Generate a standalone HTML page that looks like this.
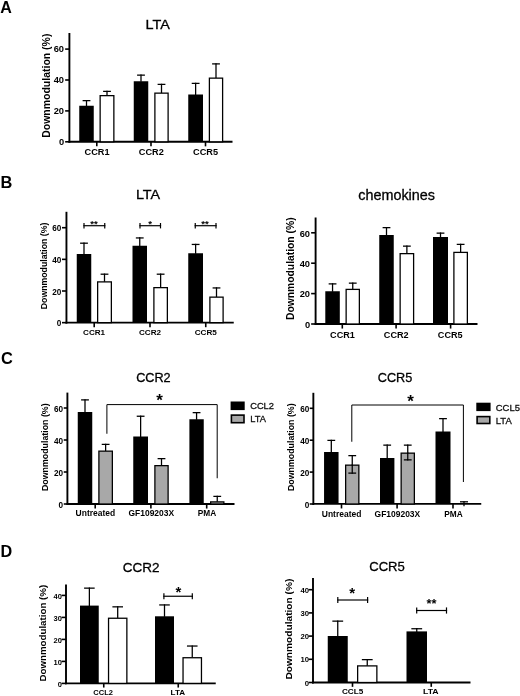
<!DOCTYPE html>
<html><head><meta charset="utf-8"><title>Figure</title>
<style>
html,body{margin:0;padding:0;background:#fff;}
body{width:520px;height:696px;overflow:hidden;font-family:"Liberation Sans",sans-serif;}
svg{display:block;font-family:"Liberation Sans",sans-serif;}
</style></head><body>
<svg width="520" height="696" viewBox="0 0 520 696">
<defs><filter id="soft" x="0" y="0" width="520" height="696" filterUnits="userSpaceOnUse"><feGaussianBlur stdDeviation="0.42"/></filter></defs>
<g filter="url(#soft)">
<rect x="-5" y="-5" width="530" height="706" fill="#fff"/>
<text x="0.2" y="12.6" font-size="16" font-weight="bold" text-anchor="start" fill="#000">A</text>
<text x="0.5" y="187.6" font-size="16.4" font-weight="bold" text-anchor="start" fill="#000">B</text>
<text x="0.9" y="363.8" font-size="16.4" font-weight="bold" text-anchor="start" fill="#000">C</text>
<text x="0.5" y="556.9" font-size="16.2" font-weight="bold" text-anchor="start" fill="#000">D</text>
<line x1="69.4" y1="33" x2="69.4" y2="142.75" stroke="#000" stroke-width="1.9" stroke-linecap="butt"/>
<line x1="68.45" y1="141.8" x2="232.5" y2="141.8" stroke="#000" stroke-width="1.9" stroke-linecap="butt"/>
<line x1="65.15" y1="141.8" x2="69.4" y2="141.8" stroke="#000" stroke-width="1.6" stroke-linecap="butt"/>
<text x="64.05" y="145.15" font-size="9.3" font-weight="bold" text-anchor="end" fill="#000">0</text>
<line x1="65.15" y1="110.9" x2="69.4" y2="110.9" stroke="#000" stroke-width="1.6" stroke-linecap="butt"/>
<text x="64.05" y="114.25" font-size="9.3" font-weight="bold" text-anchor="end" fill="#000">20</text>
<line x1="65.15" y1="80" x2="69.4" y2="80" stroke="#000" stroke-width="1.6" stroke-linecap="butt"/>
<text x="64.05" y="83.35" font-size="9.3" font-weight="bold" text-anchor="end" fill="#000">40</text>
<line x1="65.15" y1="49.1" x2="69.4" y2="49.1" stroke="#000" stroke-width="1.6" stroke-linecap="butt"/>
<text x="64.05" y="52.45" font-size="9.3" font-weight="bold" text-anchor="end" fill="#000">60</text>
<line x1="96.8" y1="141.8" x2="96.8" y2="146.35" stroke="#000" stroke-width="1.6" stroke-linecap="butt"/>
<line x1="151" y1="141.8" x2="151" y2="146.35" stroke="#000" stroke-width="1.6" stroke-linecap="butt"/>
<line x1="205.5" y1="141.8" x2="205.5" y2="146.35" stroke="#000" stroke-width="1.6" stroke-linecap="butt"/>
<rect x="79.25" y="105.75" width="14.5" height="36.05" fill="#000"/>
<line x1="86.5" y1="106.25" x2="86.5" y2="100" stroke="#000" stroke-width="1.28" stroke-linecap="butt"/>
<line x1="82.6" y1="100.64" x2="90.4" y2="100.64" stroke="#000" stroke-width="1.28" stroke-linecap="butt"/>
<rect x="100.14" y="95.64" width="13.72" height="46.16" fill="#fff" stroke="#000" stroke-width="1.28"/>
<line x1="107" y1="95.5" x2="107" y2="90.75" stroke="#000" stroke-width="1.28" stroke-linecap="butt"/>
<line x1="103.1" y1="91.39" x2="110.9" y2="91.39" stroke="#000" stroke-width="1.28" stroke-linecap="butt"/>
<rect x="133.75" y="81.25" width="14.5" height="60.55" fill="#000"/>
<line x1="141" y1="81.75" x2="141" y2="74.5" stroke="#000" stroke-width="1.28" stroke-linecap="butt"/>
<line x1="137.1" y1="75.14" x2="144.9" y2="75.14" stroke="#000" stroke-width="1.28" stroke-linecap="butt"/>
<rect x="154.89" y="93.14" width="13.22" height="48.66" fill="#fff" stroke="#000" stroke-width="1.28"/>
<line x1="161.5" y1="93" x2="161.5" y2="83.75" stroke="#000" stroke-width="1.28" stroke-linecap="butt"/>
<line x1="157.6" y1="84.39" x2="165.4" y2="84.39" stroke="#000" stroke-width="1.28" stroke-linecap="butt"/>
<rect x="188.25" y="94.5" width="14.75" height="47.3" fill="#000"/>
<line x1="195.62" y1="95" x2="195.62" y2="82.75" stroke="#000" stroke-width="1.28" stroke-linecap="butt"/>
<line x1="191.72" y1="83.39" x2="199.53" y2="83.39" stroke="#000" stroke-width="1.28" stroke-linecap="butt"/>
<rect x="209.39" y="78.14" width="13.22" height="63.66" fill="#fff" stroke="#000" stroke-width="1.28"/>
<line x1="216" y1="78" x2="216" y2="63.25" stroke="#000" stroke-width="1.28" stroke-linecap="butt"/>
<line x1="212.1" y1="63.89" x2="219.9" y2="63.89" stroke="#000" stroke-width="1.28" stroke-linecap="butt"/>
<text x="97" y="154.7" font-size="8.9" font-weight="bold" text-anchor="middle" fill="#000" textLength="25" lengthAdjust="spacingAndGlyphs">CCR1</text>
<text x="151.25" y="154.7" font-size="8.9" font-weight="bold" text-anchor="middle" fill="#000" textLength="25" lengthAdjust="spacingAndGlyphs">CCR2</text>
<text x="205.6" y="154.7" font-size="8.9" font-weight="bold" text-anchor="middle" fill="#000" textLength="25" lengthAdjust="spacingAndGlyphs">CCR5</text>
<text x="157.7" y="28.9" font-size="13.2" font-weight="normal" text-anchor="middle" fill="#000" textLength="24.3" lengthAdjust="spacingAndGlyphs" stroke="#000" stroke-width="0.3">LTA</text>
<text transform="translate(49.8,137.8) rotate(-90)" font-size="10" font-weight="bold" textLength="104.2" lengthAdjust="spacingAndGlyphs">Downmodulation (%)</text>
<line x1="66.45" y1="211.8" x2="66.45" y2="323.6" stroke="#000" stroke-width="1.9" stroke-linecap="butt"/>
<line x1="65.5" y1="322.65" x2="233.75" y2="322.65" stroke="#000" stroke-width="1.9" stroke-linecap="butt"/>
<line x1="62" y1="322.65" x2="66.45" y2="322.65" stroke="#000" stroke-width="1.6" stroke-linecap="butt"/>
<text x="61.3" y="326.3" font-size="8.2" font-weight="bold" text-anchor="end" fill="#000">0</text>
<line x1="62" y1="291" x2="66.45" y2="291" stroke="#000" stroke-width="1.6" stroke-linecap="butt"/>
<text x="61.3" y="294.65" font-size="8.2" font-weight="bold" text-anchor="end" fill="#000">20</text>
<line x1="62" y1="259.35" x2="66.45" y2="259.35" stroke="#000" stroke-width="1.6" stroke-linecap="butt"/>
<text x="61.3" y="263" font-size="8.2" font-weight="bold" text-anchor="end" fill="#000">40</text>
<line x1="62" y1="227.7" x2="66.45" y2="227.7" stroke="#000" stroke-width="1.6" stroke-linecap="butt"/>
<text x="61.3" y="231.35" font-size="8.2" font-weight="bold" text-anchor="end" fill="#000">60</text>
<line x1="94.2" y1="322.65" x2="94.2" y2="327.2" stroke="#000" stroke-width="1.6" stroke-linecap="butt"/>
<line x1="150" y1="322.65" x2="150" y2="327.2" stroke="#000" stroke-width="1.6" stroke-linecap="butt"/>
<line x1="205.75" y1="322.65" x2="205.75" y2="327.2" stroke="#000" stroke-width="1.6" stroke-linecap="butt"/>
<rect x="76.75" y="254" width="14.5" height="68.65" fill="#000"/>
<line x1="84" y1="254.5" x2="84" y2="242.55" stroke="#000" stroke-width="1.28" stroke-linecap="butt"/>
<line x1="80.1" y1="243.19" x2="87.9" y2="243.19" stroke="#000" stroke-width="1.28" stroke-linecap="butt"/>
<rect x="97.64" y="281.89" width="13.72" height="40.76" fill="#fff" stroke="#000" stroke-width="1.28"/>
<line x1="104.5" y1="281.75" x2="104.5" y2="273.55" stroke="#000" stroke-width="1.28" stroke-linecap="butt"/>
<line x1="100.6" y1="274.19" x2="108.4" y2="274.19" stroke="#000" stroke-width="1.28" stroke-linecap="butt"/>
<rect x="132.5" y="245.75" width="14.5" height="76.9" fill="#000"/>
<line x1="139.75" y1="246.25" x2="139.75" y2="237.3" stroke="#000" stroke-width="1.28" stroke-linecap="butt"/>
<line x1="135.85" y1="237.94" x2="143.65" y2="237.94" stroke="#000" stroke-width="1.28" stroke-linecap="butt"/>
<rect x="153.89" y="287.64" width="13.47" height="35.01" fill="#fff" stroke="#000" stroke-width="1.28"/>
<line x1="160.62" y1="287.5" x2="160.62" y2="273.55" stroke="#000" stroke-width="1.28" stroke-linecap="butt"/>
<line x1="156.72" y1="274.19" x2="164.53" y2="274.19" stroke="#000" stroke-width="1.28" stroke-linecap="butt"/>
<rect x="188.25" y="253.25" width="14.75" height="69.4" fill="#000"/>
<line x1="195.62" y1="253.75" x2="195.62" y2="243.8" stroke="#000" stroke-width="1.28" stroke-linecap="butt"/>
<line x1="191.72" y1="244.44" x2="199.53" y2="244.44" stroke="#000" stroke-width="1.28" stroke-linecap="butt"/>
<rect x="209.89" y="297.14" width="13.22" height="25.51" fill="#fff" stroke="#000" stroke-width="1.28"/>
<line x1="216.5" y1="297" x2="216.5" y2="287.3" stroke="#000" stroke-width="1.28" stroke-linecap="butt"/>
<line x1="212.6" y1="287.94" x2="220.4" y2="287.94" stroke="#000" stroke-width="1.28" stroke-linecap="butt"/>
<text x="94.1" y="334.5" font-size="8.1" font-weight="bold" text-anchor="middle" fill="#000">CCR1</text>
<text x="150" y="334.5" font-size="8.1" font-weight="bold" text-anchor="middle" fill="#000">CCR2</text>
<text x="205.75" y="334.5" font-size="8.1" font-weight="bold" text-anchor="middle" fill="#000">CCR5</text>
<text x="148" y="198.9" font-size="13.2" font-weight="normal" text-anchor="middle" fill="#000" textLength="24.2" lengthAdjust="spacingAndGlyphs" stroke="#000" stroke-width="0.3">LTA</text>
<text transform="translate(46.7,309.2) rotate(-90)" font-size="9.4" font-weight="bold" textLength="86.6" lengthAdjust="spacingAndGlyphs">Downmodulation (%)</text>
<line x1="83.4" y1="225.7" x2="105.35" y2="225.7" stroke="#000" stroke-width="1.2" stroke-linecap="butt"/>
<line x1="84" y1="223" x2="84" y2="228.4" stroke="#000" stroke-width="1.2" stroke-linecap="butt"/>
<line x1="104.75" y1="223" x2="104.75" y2="228.4" stroke="#000" stroke-width="1.2" stroke-linecap="butt"/>
<text x="93.9" y="226.9" font-size="9.6" font-weight="bold" text-anchor="middle" fill="#000">**</text>
<line x1="139.4" y1="225.7" x2="161.1" y2="225.7" stroke="#000" stroke-width="1.2" stroke-linecap="butt"/>
<line x1="140" y1="223" x2="140" y2="228.4" stroke="#000" stroke-width="1.2" stroke-linecap="butt"/>
<line x1="160.5" y1="223" x2="160.5" y2="228.4" stroke="#000" stroke-width="1.2" stroke-linecap="butt"/>
<text x="150.1" y="226.9" font-size="9.6" font-weight="bold" text-anchor="middle" fill="#000">*</text>
<line x1="194.65" y1="225.7" x2="216.6" y2="225.7" stroke="#000" stroke-width="1.2" stroke-linecap="butt"/>
<line x1="195.25" y1="223" x2="195.25" y2="228.4" stroke="#000" stroke-width="1.2" stroke-linecap="butt"/>
<line x1="216" y1="223" x2="216" y2="228.4" stroke="#000" stroke-width="1.2" stroke-linecap="butt"/>
<text x="204.9" y="226.9" font-size="9.6" font-weight="bold" text-anchor="middle" fill="#000">**</text>
<line x1="315.6" y1="217.5" x2="315.6" y2="324.95" stroke="#000" stroke-width="1.9" stroke-linecap="butt"/>
<line x1="314.65" y1="324" x2="477.5" y2="324" stroke="#000" stroke-width="1.9" stroke-linecap="butt"/>
<line x1="311.15" y1="324" x2="315.6" y2="324" stroke="#000" stroke-width="1.6" stroke-linecap="butt"/>
<text x="310.05" y="327.75" font-size="9.3" font-weight="bold" text-anchor="end" fill="#000">0</text>
<line x1="311.15" y1="293.6" x2="315.6" y2="293.6" stroke="#000" stroke-width="1.6" stroke-linecap="butt"/>
<text x="310.05" y="297.35" font-size="9.3" font-weight="bold" text-anchor="end" fill="#000">20</text>
<line x1="311.15" y1="263.2" x2="315.6" y2="263.2" stroke="#000" stroke-width="1.6" stroke-linecap="butt"/>
<text x="310.05" y="266.95" font-size="9.3" font-weight="bold" text-anchor="end" fill="#000">40</text>
<line x1="311.15" y1="232.8" x2="315.6" y2="232.8" stroke="#000" stroke-width="1.6" stroke-linecap="butt"/>
<text x="310.05" y="236.55" font-size="9.3" font-weight="bold" text-anchor="end" fill="#000">60</text>
<line x1="342.3" y1="324" x2="342.3" y2="328.55" stroke="#000" stroke-width="1.6" stroke-linecap="butt"/>
<line x1="396.1" y1="324" x2="396.1" y2="328.55" stroke="#000" stroke-width="1.6" stroke-linecap="butt"/>
<line x1="450.6" y1="324" x2="450.6" y2="328.55" stroke="#000" stroke-width="1.6" stroke-linecap="butt"/>
<rect x="325.3" y="291.25" width="14.5" height="32.75" fill="#000"/>
<line x1="332.55" y1="291.75" x2="332.55" y2="283.25" stroke="#000" stroke-width="1.28" stroke-linecap="butt"/>
<line x1="328.65" y1="283.89" x2="336.45" y2="283.89" stroke="#000" stroke-width="1.28" stroke-linecap="butt"/>
<rect x="346.14" y="289.39" width="13.22" height="34.61" fill="#fff" stroke="#000" stroke-width="1.28"/>
<line x1="352.75" y1="289.25" x2="352.75" y2="282.5" stroke="#000" stroke-width="1.28" stroke-linecap="butt"/>
<line x1="348.85" y1="283.14" x2="356.65" y2="283.14" stroke="#000" stroke-width="1.28" stroke-linecap="butt"/>
<rect x="379.25" y="235" width="14.5" height="89" fill="#000"/>
<line x1="386.5" y1="235.5" x2="386.5" y2="227" stroke="#000" stroke-width="1.28" stroke-linecap="butt"/>
<line x1="382.6" y1="227.64" x2="390.4" y2="227.64" stroke="#000" stroke-width="1.28" stroke-linecap="butt"/>
<rect x="400.14" y="253.64" width="13.47" height="70.36" fill="#fff" stroke="#000" stroke-width="1.28"/>
<line x1="406.88" y1="253.5" x2="406.88" y2="245.5" stroke="#000" stroke-width="1.28" stroke-linecap="butt"/>
<line x1="402.98" y1="246.14" x2="410.77" y2="246.14" stroke="#000" stroke-width="1.28" stroke-linecap="butt"/>
<rect x="433" y="237" width="15" height="87" fill="#000"/>
<line x1="440.5" y1="237.5" x2="440.5" y2="232.5" stroke="#000" stroke-width="1.28" stroke-linecap="butt"/>
<line x1="436.6" y1="233.14" x2="444.4" y2="233.14" stroke="#000" stroke-width="1.28" stroke-linecap="butt"/>
<rect x="453.89" y="252.39" width="13.47" height="71.61" fill="#fff" stroke="#000" stroke-width="1.28"/>
<line x1="460.62" y1="252.25" x2="460.62" y2="243.75" stroke="#000" stroke-width="1.28" stroke-linecap="butt"/>
<line x1="456.73" y1="244.39" x2="464.52" y2="244.39" stroke="#000" stroke-width="1.28" stroke-linecap="butt"/>
<text x="342.5" y="337.9" font-size="9.1" font-weight="bold" text-anchor="middle" fill="#000">CCR1</text>
<text x="396.25" y="337.9" font-size="9.1" font-weight="bold" text-anchor="middle" fill="#000">CCR2</text>
<text x="450.25" y="337.9" font-size="9.1" font-weight="bold" text-anchor="middle" fill="#000">CCR5</text>
<text x="396.6" y="200.4" font-size="14.3" font-weight="normal" text-anchor="middle" fill="#000" textLength="76.8" lengthAdjust="spacingAndGlyphs" stroke="#000" stroke-width="0.3">chemokines</text>
<text transform="translate(294,320) rotate(-90)" font-size="10.3" font-weight="bold" textLength="102.6" lengthAdjust="spacingAndGlyphs">Downmodulation (%)</text>
<line x1="67.4" y1="392.6" x2="67.4" y2="504.95" stroke="#000" stroke-width="1.9" stroke-linecap="butt"/>
<line x1="66.45" y1="504" x2="234.5" y2="504" stroke="#000" stroke-width="1.9" stroke-linecap="butt"/>
<line x1="63.75" y1="504" x2="67.4" y2="504" stroke="#000" stroke-width="1.6" stroke-linecap="butt"/>
<text x="63.05" y="507.95" font-size="8.2" font-weight="bold" text-anchor="end" fill="#000">0</text>
<line x1="63.75" y1="472" x2="67.4" y2="472" stroke="#000" stroke-width="1.6" stroke-linecap="butt"/>
<text x="63.05" y="475.95" font-size="8.2" font-weight="bold" text-anchor="end" fill="#000">20</text>
<line x1="63.75" y1="440" x2="67.4" y2="440" stroke="#000" stroke-width="1.6" stroke-linecap="butt"/>
<text x="63.05" y="443.95" font-size="8.2" font-weight="bold" text-anchor="end" fill="#000">40</text>
<line x1="63.75" y1="408" x2="67.4" y2="408" stroke="#000" stroke-width="1.6" stroke-linecap="butt"/>
<text x="63.05" y="411.95" font-size="8.2" font-weight="bold" text-anchor="end" fill="#000">60</text>
<line x1="95.2" y1="504" x2="95.2" y2="508.55" stroke="#000" stroke-width="1.6" stroke-linecap="butt"/>
<line x1="150.9" y1="504" x2="150.9" y2="508.55" stroke="#000" stroke-width="1.6" stroke-linecap="butt"/>
<line x1="206.7" y1="504" x2="206.7" y2="508.55" stroke="#000" stroke-width="1.6" stroke-linecap="butt"/>
<rect x="77.75" y="412" width="14.5" height="92" fill="#000"/>
<line x1="85" y1="412.5" x2="85" y2="399.25" stroke="#000" stroke-width="1.28" stroke-linecap="butt"/>
<line x1="81.1" y1="399.89" x2="88.9" y2="399.89" stroke="#000" stroke-width="1.28" stroke-linecap="butt"/>
<rect x="98.89" y="451.14" width="13.47" height="52.86" fill="#a8a8a8" stroke="#000" stroke-width="1.28"/>
<line x1="105.62" y1="451" x2="105.62" y2="443.75" stroke="#000" stroke-width="1.28" stroke-linecap="butt"/>
<line x1="101.72" y1="444.39" x2="109.53" y2="444.39" stroke="#000" stroke-width="1.28" stroke-linecap="butt"/>
<rect x="133.25" y="436.5" width="14.75" height="67.5" fill="#000"/>
<line x1="140.62" y1="437" x2="140.62" y2="415.6" stroke="#000" stroke-width="1.28" stroke-linecap="butt"/>
<line x1="136.72" y1="416.24" x2="144.53" y2="416.24" stroke="#000" stroke-width="1.28" stroke-linecap="butt"/>
<rect x="154.89" y="465.64" width="13.22" height="38.36" fill="#a8a8a8" stroke="#000" stroke-width="1.28"/>
<line x1="161.5" y1="465.5" x2="161.5" y2="458" stroke="#000" stroke-width="1.28" stroke-linecap="butt"/>
<line x1="157.6" y1="458.64" x2="165.4" y2="458.64" stroke="#000" stroke-width="1.28" stroke-linecap="butt"/>
<rect x="189.4" y="419.25" width="14.35" height="84.75" fill="#000"/>
<line x1="196.57" y1="419.75" x2="196.57" y2="412" stroke="#000" stroke-width="1.28" stroke-linecap="butt"/>
<line x1="192.67" y1="412.64" x2="200.47" y2="412.64" stroke="#000" stroke-width="1.28" stroke-linecap="butt"/>
<rect x="210.64" y="501.89" width="13.22" height="2.11" fill="#a8a8a8" stroke="#000" stroke-width="1.28"/>
<line x1="217.25" y1="501.75" x2="217.25" y2="495.75" stroke="#000" stroke-width="1.28" stroke-linecap="butt"/>
<line x1="213.35" y1="496.39" x2="221.15" y2="496.39" stroke="#000" stroke-width="1.28" stroke-linecap="butt"/>
<text x="95.4" y="516.3" font-size="8.7" font-weight="bold" text-anchor="middle" fill="#000" textLength="39.6" lengthAdjust="spacingAndGlyphs">Untreated</text>
<text x="151.3" y="516.3" font-size="8.7" font-weight="bold" text-anchor="middle" fill="#000" textLength="45.6" lengthAdjust="spacingAndGlyphs">GF109203X</text>
<text x="207" y="516.3" font-size="8.7" font-weight="bold" text-anchor="middle" fill="#000" textLength="18.4" lengthAdjust="spacingAndGlyphs">PMA</text>
<text x="153.4" y="381.8" font-size="12.7" font-weight="normal" text-anchor="middle" fill="#000" stroke="#000" stroke-width="0.3">CCR2</text>
<text transform="translate(47.5,491) rotate(-90)" font-size="9.7" font-weight="bold" textLength="87.6" lengthAdjust="spacingAndGlyphs">Downmodulation (%)</text>
<polyline points="106.9,433.75 106.9,404.6 217.2,404.6 217.2,478.25" fill="none" stroke="#000" stroke-width="1"/>
<text x="159.6" y="406.4" font-size="17" font-weight="bold" text-anchor="middle" fill="#000">*</text>
<rect x="230.6" y="401.5" width="14.1" height="8.6" fill="#000"/>
<rect x="231.4" y="415.1" width="12.6" height="7.6" fill="#a8a8a8" stroke="#000" stroke-width="1.6"/>
<text x="250.2" y="408.6" font-size="9.3" font-weight="normal" text-anchor="start" fill="#111" stroke="#111" stroke-width="0.3">CCL2</text>
<text x="250.2" y="421.7" font-size="9.3" font-weight="normal" text-anchor="start" fill="#111" stroke="#111" stroke-width="0.3">LTA</text>
<line x1="313.35" y1="392.8" x2="313.35" y2="504.85" stroke="#000" stroke-width="1.9" stroke-linecap="butt"/>
<line x1="312.4" y1="503.9" x2="481.25" y2="503.9" stroke="#000" stroke-width="1.9" stroke-linecap="butt"/>
<line x1="309.7" y1="504" x2="313.35" y2="504" stroke="#000" stroke-width="1.6" stroke-linecap="butt"/>
<text x="309.25" y="507.95" font-size="8.2" font-weight="bold" text-anchor="end" fill="#000">0</text>
<line x1="309.7" y1="472.1" x2="313.35" y2="472.1" stroke="#000" stroke-width="1.6" stroke-linecap="butt"/>
<text x="309.25" y="476.05" font-size="8.2" font-weight="bold" text-anchor="end" fill="#000">20</text>
<line x1="309.7" y1="440.2" x2="313.35" y2="440.2" stroke="#000" stroke-width="1.6" stroke-linecap="butt"/>
<text x="309.25" y="444.15" font-size="8.2" font-weight="bold" text-anchor="end" fill="#000">40</text>
<line x1="309.7" y1="408.3" x2="313.35" y2="408.3" stroke="#000" stroke-width="1.6" stroke-linecap="butt"/>
<text x="309.25" y="412.25" font-size="8.2" font-weight="bold" text-anchor="end" fill="#000">60</text>
<line x1="341.5" y1="503.9" x2="341.5" y2="508.45" stroke="#000" stroke-width="1.6" stroke-linecap="butt"/>
<line x1="397.1" y1="503.9" x2="397.1" y2="508.45" stroke="#000" stroke-width="1.6" stroke-linecap="butt"/>
<line x1="453" y1="503.9" x2="453" y2="508.45" stroke="#000" stroke-width="1.6" stroke-linecap="butt"/>
<rect x="324.05" y="452" width="14.5" height="52" fill="#000"/>
<line x1="331.3" y1="452.5" x2="331.3" y2="439.75" stroke="#000" stroke-width="1.28" stroke-linecap="butt"/>
<line x1="327.4" y1="440.39" x2="335.2" y2="440.39" stroke="#000" stroke-width="1.28" stroke-linecap="butt"/>
<rect x="345.64" y="465.14" width="13.22" height="38.86" fill="#a8a8a8" stroke="#000" stroke-width="1.28"/>
<line x1="352.25" y1="465" x2="352.25" y2="455" stroke="#000" stroke-width="1.28" stroke-linecap="butt"/>
<line x1="348.35" y1="455.64" x2="356.15" y2="455.64" stroke="#000" stroke-width="1.28" stroke-linecap="butt"/>
<line x1="352.25" y1="464.5" x2="352.25" y2="473.75" stroke="#000" stroke-width="1.28" stroke-linecap="butt"/>
<line x1="348.35" y1="473.11" x2="356.15" y2="473.11" stroke="#000" stroke-width="1.28" stroke-linecap="butt"/>
<rect x="380" y="458" width="14.4" height="46" fill="#000"/>
<line x1="387.2" y1="458.5" x2="387.2" y2="444.5" stroke="#000" stroke-width="1.28" stroke-linecap="butt"/>
<line x1="383.3" y1="445.14" x2="391.1" y2="445.14" stroke="#000" stroke-width="1.28" stroke-linecap="butt"/>
<rect x="401.14" y="453.14" width="13.22" height="50.86" fill="#a8a8a8" stroke="#000" stroke-width="1.28"/>
<line x1="407.75" y1="453" x2="407.75" y2="444.5" stroke="#000" stroke-width="1.28" stroke-linecap="butt"/>
<line x1="403.85" y1="445.14" x2="411.65" y2="445.14" stroke="#000" stroke-width="1.28" stroke-linecap="butt"/>
<line x1="407.75" y1="452.5" x2="407.75" y2="460.5" stroke="#000" stroke-width="1.28" stroke-linecap="butt"/>
<line x1="403.85" y1="459.86" x2="411.65" y2="459.86" stroke="#000" stroke-width="1.28" stroke-linecap="butt"/>
<rect x="435.5" y="431.5" width="15" height="72.5" fill="#000"/>
<line x1="443" y1="432" x2="443" y2="418" stroke="#000" stroke-width="1.28" stroke-linecap="butt"/>
<line x1="439.1" y1="418.64" x2="446.9" y2="418.64" stroke="#000" stroke-width="1.28" stroke-linecap="butt"/>
<line x1="464" y1="501.25" x2="464" y2="506.3" stroke="#000" stroke-width="1.28" stroke-linecap="butt"/>
<line x1="460" y1="501.8" x2="468" y2="501.8" stroke="#000" stroke-width="1.28" stroke-linecap="butt"/>
<text x="341.6" y="516.8" font-size="8.7" font-weight="bold" text-anchor="middle" fill="#000" textLength="39.6" lengthAdjust="spacingAndGlyphs">Untreated</text>
<text x="397.4" y="516.8" font-size="8.7" font-weight="bold" text-anchor="middle" fill="#000" textLength="45.6" lengthAdjust="spacingAndGlyphs">GF109203X</text>
<text x="453.5" y="516.8" font-size="8.7" font-weight="bold" text-anchor="middle" fill="#000" textLength="18.4" lengthAdjust="spacingAndGlyphs">PMA</text>
<text x="395" y="381.8" font-size="12.7" font-weight="normal" text-anchor="middle" fill="#000" stroke="#000" stroke-width="0.3">CCR5</text>
<text transform="translate(293.5,491) rotate(-90)" font-size="9.7" font-weight="bold" textLength="87.6" lengthAdjust="spacingAndGlyphs">Downmodulation (%)</text>
<polyline points="351.8,441.75 351.8,405 463.4,405 463.4,482" fill="none" stroke="#000" stroke-width="1"/>
<text x="410.6" y="407.2" font-size="17" font-weight="bold" text-anchor="middle" fill="#000">*</text>
<rect x="476.3" y="402.7" width="14.3" height="8.4" fill="#000"/>
<rect x="477.1" y="416.6" width="12.7" height="6.9" fill="#a8a8a8" stroke="#000" stroke-width="1.6"/>
<text x="495.8" y="410.5" font-size="9.45" font-weight="normal" text-anchor="start" fill="#111" stroke="#111" stroke-width="0.3">CCL5</text>
<text x="495.8" y="423.7" font-size="9.45" font-weight="normal" text-anchor="start" fill="#111" stroke="#111" stroke-width="0.3">LTA</text>
<line x1="66" y1="584.4" x2="66" y2="684.35" stroke="#000" stroke-width="1.9" stroke-linecap="butt"/>
<line x1="65.05" y1="683.4" x2="215.75" y2="683.4" stroke="#000" stroke-width="1.9" stroke-linecap="butt"/>
<line x1="61.55" y1="683.4" x2="66" y2="683.4" stroke="#000" stroke-width="1.6" stroke-linecap="butt"/>
<text x="61.95" y="686.7" font-size="7.5" font-weight="bold" text-anchor="end" fill="#000">0</text>
<line x1="61.55" y1="661.4" x2="66" y2="661.4" stroke="#000" stroke-width="1.6" stroke-linecap="butt"/>
<text x="61.95" y="664.7" font-size="7.5" font-weight="bold" text-anchor="end" fill="#000">10</text>
<line x1="61.55" y1="639.4" x2="66" y2="639.4" stroke="#000" stroke-width="1.6" stroke-linecap="butt"/>
<text x="61.95" y="642.7" font-size="7.5" font-weight="bold" text-anchor="end" fill="#000">20</text>
<line x1="61.55" y1="617.4" x2="66" y2="617.4" stroke="#000" stroke-width="1.6" stroke-linecap="butt"/>
<text x="61.95" y="620.7" font-size="7.5" font-weight="bold" text-anchor="end" fill="#000">30</text>
<line x1="61.55" y1="595.4" x2="66" y2="595.4" stroke="#000" stroke-width="1.6" stroke-linecap="butt"/>
<text x="61.95" y="598.7" font-size="7.5" font-weight="bold" text-anchor="end" fill="#000">40</text>
<line x1="103.75" y1="683.4" x2="103.75" y2="687.55" stroke="#000" stroke-width="1.6" stroke-linecap="butt"/>
<line x1="178.25" y1="683.4" x2="178.25" y2="687.55" stroke="#000" stroke-width="1.6" stroke-linecap="butt"/>
<rect x="80" y="605.6" width="18.75" height="77.8" fill="#000"/>
<line x1="89.38" y1="606.1" x2="89.38" y2="587.5" stroke="#000" stroke-width="1.28" stroke-linecap="butt"/>
<line x1="84.08" y1="588.14" x2="94.67" y2="588.14" stroke="#000" stroke-width="1.28" stroke-linecap="butt"/>
<rect x="108.54" y="618.24" width="18.32" height="65.16" fill="#fff" stroke="#000" stroke-width="1.28"/>
<line x1="117.7" y1="618.1" x2="117.7" y2="606.2" stroke="#000" stroke-width="1.28" stroke-linecap="butt"/>
<line x1="112.4" y1="606.84" x2="123" y2="606.84" stroke="#000" stroke-width="1.28" stroke-linecap="butt"/>
<rect x="155" y="616.3" width="19" height="67.1" fill="#000"/>
<line x1="164.5" y1="616.8" x2="164.5" y2="604.3" stroke="#000" stroke-width="1.28" stroke-linecap="butt"/>
<line x1="159.2" y1="604.94" x2="169.8" y2="604.94" stroke="#000" stroke-width="1.28" stroke-linecap="butt"/>
<rect x="183.04" y="657.74" width="18.42" height="25.66" fill="#fff" stroke="#000" stroke-width="1.28"/>
<line x1="192.25" y1="657.6" x2="192.25" y2="645.4" stroke="#000" stroke-width="1.28" stroke-linecap="butt"/>
<line x1="186.95" y1="646.04" x2="197.55" y2="646.04" stroke="#000" stroke-width="1.28" stroke-linecap="butt"/>
<text x="103.1" y="694.8" font-size="7.5" font-weight="bold" text-anchor="middle" fill="#000" textLength="19.6" lengthAdjust="spacingAndGlyphs">CCL2</text>
<text x="177.9" y="694.8" font-size="7.5" font-weight="bold" text-anchor="middle" fill="#000" textLength="14.6" lengthAdjust="spacingAndGlyphs">LTA</text>
<text x="141.1" y="571.8" font-size="13.5" font-weight="normal" text-anchor="middle" fill="#000" stroke="#000" stroke-width="0.3">CCR2</text>
<text transform="translate(46.2,681.6) rotate(-90)" font-size="8.8" font-weight="bold" textLength="96.8" lengthAdjust="spacingAndGlyphs">Downmodulation (%)</text>
<line x1="163.3" y1="596.25" x2="192.9" y2="596.25" stroke="#000" stroke-width="1.2" stroke-linecap="butt"/>
<line x1="163.9" y1="593.25" x2="163.9" y2="599.25" stroke="#000" stroke-width="1.2" stroke-linecap="butt"/>
<line x1="192.3" y1="593.25" x2="192.3" y2="599.25" stroke="#000" stroke-width="1.2" stroke-linecap="butt"/>
<text x="178.3" y="596.6" font-size="15" font-weight="bold" text-anchor="middle" fill="#000">*</text>
<line x1="313" y1="578" x2="313" y2="683.45" stroke="#000" stroke-width="1.9" stroke-linecap="butt"/>
<line x1="312.05" y1="682.5" x2="470.5" y2="682.5" stroke="#000" stroke-width="1.9" stroke-linecap="butt"/>
<line x1="308.55" y1="682.5" x2="313" y2="682.5" stroke="#000" stroke-width="1.6" stroke-linecap="butt"/>
<text x="309.15" y="685.67" font-size="7.7" font-weight="bold" text-anchor="end" fill="#000">0</text>
<line x1="308.55" y1="659.3" x2="313" y2="659.3" stroke="#000" stroke-width="1.6" stroke-linecap="butt"/>
<text x="309.15" y="662.47" font-size="7.7" font-weight="bold" text-anchor="end" fill="#000">10</text>
<line x1="308.55" y1="636.1" x2="313" y2="636.1" stroke="#000" stroke-width="1.6" stroke-linecap="butt"/>
<text x="309.15" y="639.27" font-size="7.7" font-weight="bold" text-anchor="end" fill="#000">20</text>
<line x1="308.55" y1="612.9" x2="313" y2="612.9" stroke="#000" stroke-width="1.6" stroke-linecap="butt"/>
<text x="309.15" y="616.07" font-size="7.7" font-weight="bold" text-anchor="end" fill="#000">30</text>
<line x1="308.55" y1="589.7" x2="313" y2="589.7" stroke="#000" stroke-width="1.6" stroke-linecap="butt"/>
<text x="309.15" y="592.87" font-size="7.7" font-weight="bold" text-anchor="end" fill="#000">40</text>
<line x1="352.5" y1="682.5" x2="352.5" y2="686.85" stroke="#000" stroke-width="1.6" stroke-linecap="butt"/>
<line x1="431.25" y1="682.5" x2="431.25" y2="686.85" stroke="#000" stroke-width="1.6" stroke-linecap="butt"/>
<rect x="327.75" y="636" width="20" height="46.5" fill="#000"/>
<line x1="337.75" y1="636.5" x2="337.75" y2="620.5" stroke="#000" stroke-width="1.28" stroke-linecap="butt"/>
<line x1="332.35" y1="621.14" x2="343.15" y2="621.14" stroke="#000" stroke-width="1.28" stroke-linecap="butt"/>
<rect x="357.64" y="665.89" width="19.22" height="16.61" fill="#fff" stroke="#000" stroke-width="1.28"/>
<line x1="367.25" y1="665.75" x2="367.25" y2="659" stroke="#000" stroke-width="1.28" stroke-linecap="butt"/>
<line x1="361.85" y1="659.64" x2="372.65" y2="659.64" stroke="#000" stroke-width="1.28" stroke-linecap="butt"/>
<rect x="406.5" y="631.4" width="20.5" height="51.1" fill="#000"/>
<line x1="416.75" y1="631.9" x2="416.75" y2="628.1" stroke="#000" stroke-width="1.28" stroke-linecap="butt"/>
<line x1="411.35" y1="628.74" x2="422.15" y2="628.74" stroke="#000" stroke-width="1.28" stroke-linecap="butt"/>
<text x="352.6" y="694.1" font-size="8" font-weight="bold" text-anchor="middle" fill="#000" textLength="21.3" lengthAdjust="spacingAndGlyphs">CCL5</text>
<text x="430.8" y="694.1" font-size="8" font-weight="bold" text-anchor="middle" fill="#000" textLength="15.7" lengthAdjust="spacingAndGlyphs">LTA</text>
<text x="387" y="571.1" font-size="13.1" font-weight="normal" text-anchor="middle" fill="#000" stroke="#000" stroke-width="0.3">CCR5</text>
<text transform="translate(291.7,679.6) rotate(-90)" font-size="9.1" font-weight="bold" textLength="101" lengthAdjust="spacingAndGlyphs">Downmodulation (%)</text>
<line x1="337.2" y1="600" x2="368.2" y2="600" stroke="#000" stroke-width="1.2" stroke-linecap="butt"/>
<line x1="337.8" y1="597" x2="337.8" y2="603" stroke="#000" stroke-width="1.2" stroke-linecap="butt"/>
<line x1="367.6" y1="597" x2="367.6" y2="603" stroke="#000" stroke-width="1.2" stroke-linecap="butt"/>
<text x="352.1" y="598.3" font-size="15" font-weight="bold" text-anchor="middle" fill="#000">*</text>
<line x1="416.1" y1="610.5" x2="447.1" y2="610.5" stroke="#000" stroke-width="1.2" stroke-linecap="butt"/>
<line x1="416.7" y1="607.4" x2="416.7" y2="613.6" stroke="#000" stroke-width="1.2" stroke-linecap="butt"/>
<line x1="446.5" y1="607.4" x2="446.5" y2="613.6" stroke="#000" stroke-width="1.2" stroke-linecap="butt"/>
<text x="431.6" y="608.2" font-size="12.8" font-weight="bold" text-anchor="middle" fill="#000">**</text>
</g></svg></body></html>
